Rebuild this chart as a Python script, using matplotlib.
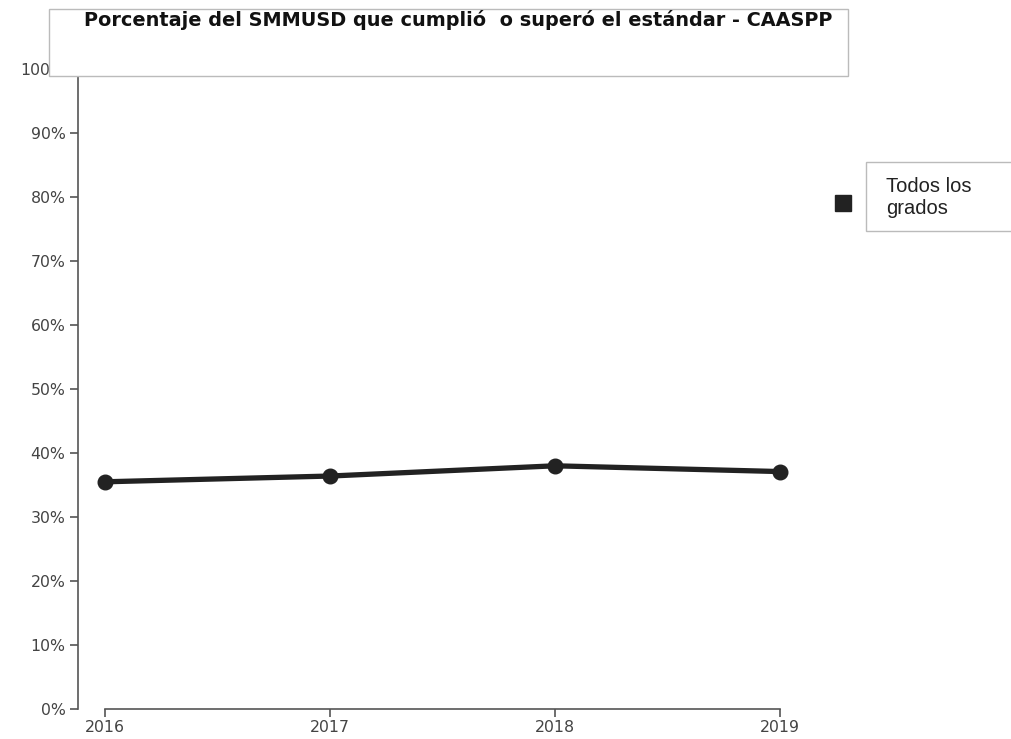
import matplotlib
matplotlib.use("Agg")
import matplotlib.pyplot as plt
from matplotlib.patches import Rectangle
from matplotlib.lines import Line2D

plt.rcParams["font.family"] = ["DejaVu Sans"]

years = [2016, 2017, 2018, 2019]
pct_met = [35.5, 36.4, 38.0, 37.1]
y_ticks = list(range(0, 101, 10))
title = "Porcentaje del SMMUSD que cumplió  o superó el estándar - CAASPP"
series_label = "Todos los\ngrados"

W, H = 1011, 739
fig = plt.figure(figsize=(W / 100, H / 100), dpi=100)


def px(x, y, w, h):
    # pixel box (top-left origin) -> figure fraction
    return [x / W, 1 - (y + h) / H, w / W, h / H]


ax = fig.add_axes(px(78, 69, 702, 640))
ax.plot(years, pct_met, color="#222222", lw=3.8, marker="o", ms=10.5,
        solid_capstyle="round", clip_on=False, zorder=3)

ax.set_xlim(2016 - 27 / 225, 2019)
ax.set_ylim(0, 100)
ax.set_xticks(years)
ax.set_xticklabels([str(y) for y in years])
ax.set_yticks(y_ticks)
ax.set_yticklabels([f"{v}%" for v in y_ticks])

for s in ["top", "right"]:
    ax.spines[s].set_visible(False)
ax.spines["left"].set_bounds(0, 100)
ax.spines["bottom"].set_bounds(2016, 2019)
for s in ["left", "bottom"]:
    ax.spines[s].set_color("#555555")
    ax.spines[s].set_linewidth(1.2)
ax.tick_params(axis="both", colors="#555555", labelsize=11.3, length=6,
               width=1.2, labelcolor="#444444")
ax.tick_params(axis="y", pad=3)
ax.tick_params(axis="x", pad=2)

# title box
fig.patches.append(Rectangle((49 / W, 1 - 76 / H), 799 / W, 67 / H,
                             transform=fig.transFigure, facecolor="white",
                             edgecolor="#bbbbbb", lw=1, zorder=5))
fig.text(458 / W, 1 - 20 / H, title, ha="center", va="center",
         fontsize=13.9, fontweight="bold", color="#111111", zorder=6)

# legend
fig.patches.append(Rectangle((866 / W, 1 - 231 / H), 150 / W, 69 / H,
                             transform=fig.transFigure, facecolor="white",
                             edgecolor="#bbbbbb", lw=1, zorder=5))
fig.lines.append(Line2D([843 / W], [1 - 203 / H], transform=fig.transFigure,
                        marker="s", ms=12, color="#222222", ls="none"))
fig.text(886 / W, 1 - 198 / H, series_label, ha="left", va="center",
         fontsize=14.5, color="#222222", linespacing=1.2, zorder=6,
         family="Liberation Sans")

fig.savefig("out.png", dpi=100)
